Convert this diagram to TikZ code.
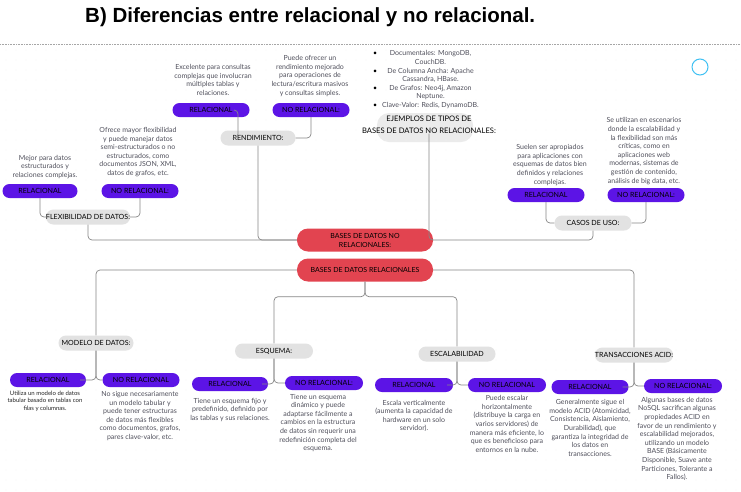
\documentclass[tikz,border=0pt]{standalone}
\usepackage{fontspec}
\setmainfont{Lato}
\newfontfamily\titlefont{Liberation Sans}
\definecolor{violeta}{RGB}{92,20,230}
\definecolor{rojoDB}{RGB}{226,68,80}
\definecolor{grisp}{RGB}{226,226,226}
\definecolor{linea}{RGB}{135,135,135}
\definecolor{texto}{RGB}{80,80,92}

\begin{document}
\begin{tikzpicture}[x=1pt, y=-1pt,
  mor/.style={fill=violeta, rounded corners=7pt, minimum width=77pt,
    minimum height=14pt, inner sep=0pt, font=\fontsize{7.1}{8}\selectfont},
  gris/.style={fill=grisp, rounded corners=7.5pt, minimum width=77pt,
    minimum height=15pt, inner sep=0pt, font=\fontsize{7.1}{8}\selectfont},
  baseroja/.style={fill=rojoDB, rounded corners=11pt, minimum width=136pt,
    minimum height=23pt, inner sep=0pt, align=center,
    font=\fontsize{7}{9}\selectfont},
  desc/.style={align=center, text=texto, inner sep=0pt,
    font=\fontsize{7}{8.6}\selectfont},
  conn/.style={draw=linea, line width=0.7pt, rounded corners=4pt}]
  \useasboundingbox[fill=white] (0,0) rectangle (741,491);
  % dot grid
  \foreach \x in {6,16,...,736}
    \foreach \y in {50,60,...,490}
      \fill[gray!22] (\x,\y) circle (0.45pt);
  \draw[gray!70, densely dotted, line width=0.6pt] (0,44) -- (741,44);
  \draw[cyan!75, line width=1pt] (700,67) circle (8pt);
  % title
  \node[anchor=base west, inner sep=0pt,
    font=\titlefont\bfseries\fontsize{20.5}{24}\selectfont]
    (titulo) at (85,22) {B) Diferencias entre relacional y no relacional.};

  % centre
  \node[baseroja] (noDB) at (365,240) {BASES DE DATOS NO\\RELACIONALES:};
  \node[baseroja] (relDB) at (365,270) {BASES DE DATOS RELACIONALES};

  % rendimiento
  \node[desc] (txtRendR) at (213,80) {Excelente para consultas\\complejas que involucran\\m\'ultiples tablas y\\relaciones.};
  \node[desc] (txtRendN) at (310,76) {Puede ofrecer un\\rendimiento mejorado\\para operaciones de\\lectura/escritura masivos\\y consultas simples.};
  \node[mor] (rendR) at (211,110) {RELACIONAL};
  \node[mor] (rendN) at (311,110) {NO RELACIONAL:};
  \node[gris, minimum width=75pt] (rend) at (258,138) {RENDIMIENTO:};

  % flexibilidad
  \node[desc] (txtFlexR) at (45,167) {Mejor para datos\\estructurados y\\relaciones complejas.};
  \node[desc] (txtFlexN) at (138,152) {Ofrece mayor flexibilidad\\y puede manejar datos\\semi-estructurados o no\\estructurados, como\\documentos JSON, XML,\\datos de grafos, etc.};
  \node[mor, minimum width=75pt] (flexR) at (40,191) {RELACIONAL};
  \node[mor] (flexN) at (140,191) {NO RELACIONAL:};
  \node[gris, minimum width=80pt] (flex) at (88,217) {FLEXIBILIDAD DE DATOS:};

  % ejemplos
  \node[desc] (tipos) at (426,80) {\begin{tabular}{@{}l@{\hspace{5pt}}c@{}}
    \textcolor{black}{\textbullet} & Documentales: MongoDB,\\ & CouchDB.\\
    \textcolor{black}{\textbullet} & De Columna Ancha: Apache\\ & Cassandra, HBase.\\
    \textcolor{black}{\textbullet} & De Grafos: Neo4j, Amazon\\ & Neptune.\\
    \textcolor{black}{\textbullet} & Clave-Valor: Redis, DynamoDB.
  \end{tabular}};
  \fill[grisp!70, rounded corners=12pt] (377,113) rectangle (473,142);
  \node[align=center, inner sep=0pt, font=\fontsize{7.6}{11.5}\selectfont]
    (ejem) at (429,125) {EJEMPLOS DE TIPOS DE\\BASES DE DATOS NO RELACIONALES:};

  % casos de uso
  \node[desc] (txtCasR) at (550,165) {Suelen ser apropiados\\para aplicaciones con\\esquemas de datos bien\\definidos y relaciones\\complejas.};
  \node[desc] (txtCasN) at (644,151) {Se utilizan en escenarios\\donde la escalabilidad y\\la flexibilidad son m\'as\\cr\'iticas, como en\\aplicaciones web\\modernas, sistemas de\\gesti\'on de contenido,\\an\'alisis de big data, etc.};
  \node[mor] (casR) at (546,195) {RELACIONAL};
  \node[mor] (casN) at (646,195) {NO RELACIONAL:};
  \node[gris] (casos) at (593,223) {CASOS DE USO:};

  % modelo de datos
  \node[gris, minimum width=75pt] (modelo) at (96,343) {MODELO DE DATOS:};
  \node[mor, minimum width=76pt] (modR) at (48,380) {RELACIONAL};
  \node[mor] (modN) at (141,380) {NO RELACIONAL};
  \node[desc, text=black!85, font=\fontsize{6}{7.6}\selectfont]
    (txtModR) at (45,401) {Utiliza un modelo de datos\\tabular basado en tablas con\\filas y columnas.};
  \node[desc] (txtModN) at (140,416) {No sigue necesariamente\\un modelo tabular y\\puede tener estructuras\\de datos m\'as flexibles\\como documentos, grafos,\\pares clave-valor, etc.};

  % esquema
  \node[gris, minimum width=78pt] (esq) at (274,351) {ESQUEMA:};
  \node[mor, minimum width=76pt] (esqR) at (230,384) {RELACIONAL};
  \node[mor, minimum width=78pt] (esqN) at (324,383) {NO RELACIONAL:};
  \node[desc] (txtEsqR) at (230,410) {Tiene un esquema fijo y\\predefinido, definido por\\las tablas y sus relaciones.};
  \node[desc] (txtEsqN) at (318,423) {Tiene un esquema\\din\'amico y puede\\adaptarse f\'acilmente a\\cambios en la estructura\\de datos sin requerir una\\redefinici\'on completa del\\esquema.};

  % escalabilidad
  \node[gris] (escal) at (457,354) {ESCALABILIDAD};
  \node[mor, minimum width=78pt] (escR) at (414,385) {RELACIONAL};
  \node[mor, minimum width=78pt] (escN) at (507,385) {NO RELACIONAL};
  \node[desc] (txtEscR) at (414,416) {Escala verticalmente\\(aumenta la capacidad de\\hardware en un solo\\servidor).};
  \node[desc] (txtEscN) at (507,424) {Puede escalar\\horizontalmente\\(distribuye la carga en\\varios servidores) de\\manera m\'as eficiente, lo\\que es beneficioso para\\entornos en la nube.};

  % transacciones
  \node[gris, minimum width=78pt] (trans) at (634,355) {TRANSACCIONES ACID:};
  \node[mor] (traR) at (590,387) {RELACIONAL};
  \node[mor, minimum width=78pt] (traN) at (683,386) {NO RELACIONAL:};
  \node[desc] (txtTraR) at (590,428) {Generalmente sigue el\\modelo ACID (Atomicidad,\\Consistencia, Aislamiento,\\Durabilidad), que\\garantiza la integridad de\\los datos en\\transacciones.};
  \node[desc] (txtTraN) at (677,439) {Algunas bases de datos\\NoSQL sacrifican algunas\\propiedades ACID en\\favor de un rendimiento y\\escalabilidad mejorados,\\utilizando un modelo\\BASE (B\'asicamente\\Disponible, Suave ante\\Particiones, Tolerante a\\Fallos).};

  % connectors, top half
  \draw[conn] ([xshift=23pt]rendR.center) -- ++(4,0) |- ([xshift=-22pt]rend.center);
  \draw[conn] (rendN.south) |- (rend.east);
  \draw[conn] (flexR.south) |- ([xshift=-38pt]flex.center);
  \draw[conn] (flexN.south) |- (flex.east);
  \draw[conn] (casR.south) |- (casos.west);
  \draw[conn] (casN.south) |- (casos.east);
  \draw[conn] (rend.south) |- (noDB.west);
  \draw[conn] (flex.south) |- (noDB.west);
  \draw[conn] (ejem.south) |- (noDB.east);
  \draw[conn] (casos.south) |- (noDB.east);
  % connectors, bottom half
  \draw[conn] (relDB.west) -| (modelo.north);
  \draw[conn] (relDB.east) -| (trans.north);
  \draw[conn] (relDB.south) -- ++(0,15) -| (esq.north);
  \draw[conn] (relDB.south) -- ++(0,15) -| (escal.north);
  \foreach \cat/\izq/\der in {modelo/modR/modN, esq/esqR/esqN,
      escal/escR/escN, trans/traR/traN} {
    \draw[conn] (\cat.south) |- ([xshift=-6pt]\izq.east);
    \draw[conn] (\cat.south) |- (\der.west);
  }
\end{tikzpicture}
\end{document}
